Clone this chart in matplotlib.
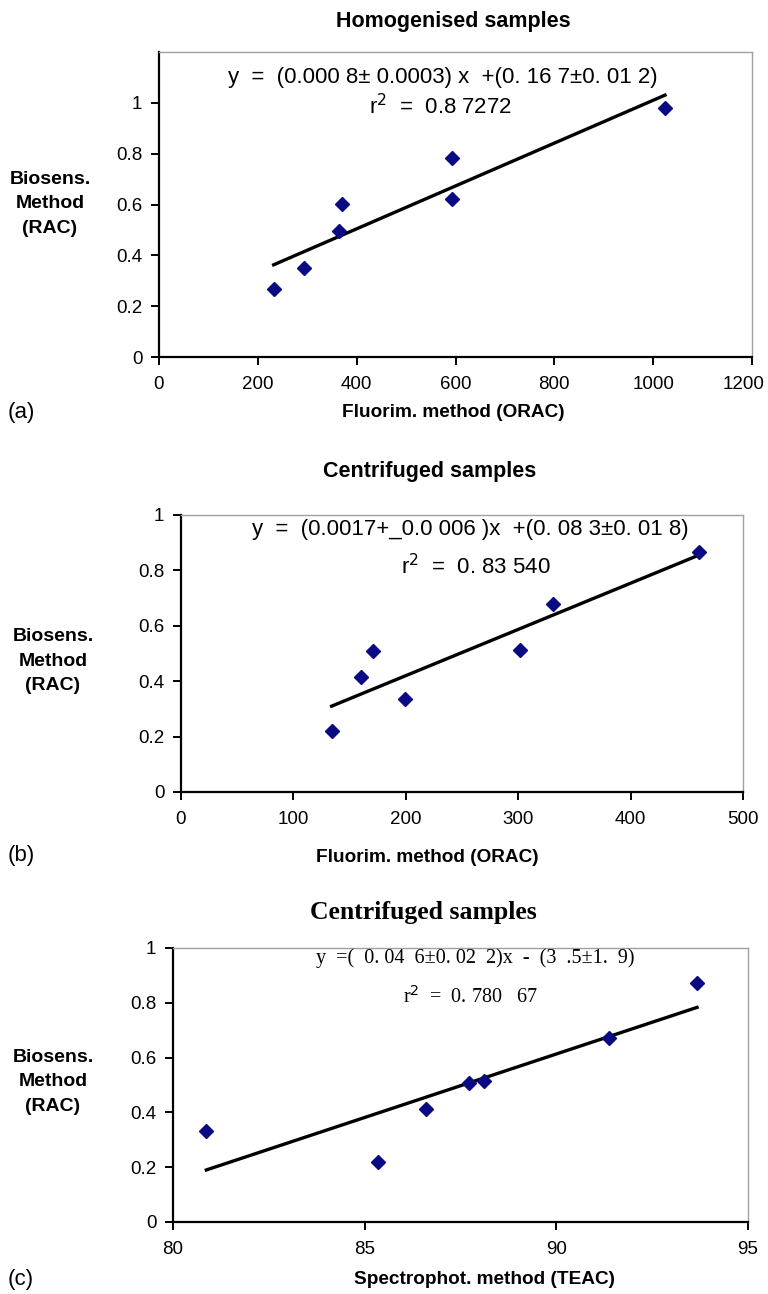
import matplotlib
matplotlib.use("Agg")
import matplotlib.pyplot as plt
import matplotlib.transforms as mtransforms
import numpy as np

# ---------------- data ----------------
a_x = [232, 294, 365, 370, 593, 593, 1024]
a_y = [0.266, 0.350, 0.495, 0.603, 0.781, 0.622, 0.979]

b_x = [134, 160, 171, 199, 302, 331, 461]
b_y = [0.219, 0.416, 0.508, 0.337, 0.513, 0.677, 0.868]

c_x = [80.87, 85.34, 86.60, 87.73, 88.12, 91.38, 93.67]
c_y = [0.333, 0.220, 0.414, 0.509, 0.516, 0.672, 0.873]

a_xticks = [0, 200, 400, 600, 800, 1000, 1200]
b_xticks = [0, 100, 200, 300, 400, 500]
c_xticks = [80, 85, 90, 95]
yticks = [0, 0.2, 0.4, 0.6, 0.8, 1]
ytick_labels = ["0", "0.2", "0.4", "0.6", "0.8", "1"]

titles = ["Homogenised samples", "Centrifuged samples", "Centrifuged samples"]
xlabels = ["Fluorim. method (ORAC)", "Fluorim. method (ORAC)", "Spectrophot. method (TEAC)"]
ylabel = "Biosens.\nMethod\n(RAC)"
panel_tags = ["(a)", "(b)", "(c)"]
eq1 = ["y  =  (0.000 8± 0.0003) x  +(0. 16 7±0. 01 2)",
       "y  =  (0.0017+_0.0 006 )x  +(0. 08 3±0. 01 8)",
       "y  =(  0. 04  6±0. 02  2)x  -  (3  .5±1.  9)"]
eq2 = ["r$^2$  =  0.8 7272", "r$^2$  =  0. 83 540", "r$^{2}$  =  0. 780   67"]

sans = "Liberation Sans"
serif = "Liberation Serif"

W, H = 768, 1294
fig = plt.figure(figsize=(W / 100, H / 100), dpi=100)

def fx(px):
    return px / W

def fy(py):
    return 1 - py / H

# axes boxes in pixels: left, top, right, bottom
boxes = [(159, 52, 752, 357), (181, 515, 743, 792), (173, 948, 748, 1222)]
ylims = [(0, 1.2), (0, 1), (0, 1)]
xlims = [(0, 1200), (0, 500), (80, 95)]
xts = [a_xticks, b_xticks, c_xticks]
datas = [(a_x, a_y), (b_x, b_y), (c_x, c_y)]

title_pos = [(453, 21), (430, 472), (423, 913)]
ylab_pos = [(50, 204), (53, 661), (53, 1082)]
xlab_pos = [(453, 413), (427, 857), (484, 1280)]
tag_pos = [(8, 413), (8, 855), (8, 1280)]
eq1_pos = [(443, 77), (470, 530), (475, 958)]
eq2_pos = [(440, 107), (476, 567), (470, 997)]

for i in range(3):
    l, t, r, b = boxes[i]
    ax = fig.add_axes([fx(l), fy(b), fx(r) - fx(l), (b - t) / H])
    x, y = datas[i]
    ax.plot(x, y, linestyle="none", marker="D", markersize=7.5,
            color="#0a0a82", zorder=3)
    k, c0 = np.polyfit(x, y, 1)
    xs = np.array([min(x), max(x)])
    ax.plot(xs, k * xs + c0, color="black", linewidth=2.4, zorder=2)
    ax.set_xlim(*xlims[i])
    ax.set_ylim(*ylims[i])
    ax.set_xticks(xts[i])
    ax.set_yticks(yticks)
    ax.set_yticklabels(ytick_labels)
    for s in ["top", "right"]:
        ax.spines[s].set_color("#a0a0a0")
        ax.spines[s].set_linewidth(1.0)
    for s in ["left", "bottom"]:
        ax.spines[s].set_color("black")
        ax.spines[s].set_linewidth(1.6)
    ax.tick_params(axis="both", direction="out", length=6, width=1.4,
                   labelsize=13.5)
    ax.tick_params(axis="x", pad=8)
    ax.tick_params(axis="y", pad=6)
    for lab in ax.get_xticklabels() + ax.get_yticklabels():
        lab.set_fontfamily(sans)
    if i == 0:
        last = ax.get_xticklabels()[-1]
        last.set_transform(last.get_transform() +
                           mtransforms.ScaledTranslation(-0.08, 0, fig.dpi_scale_trans))

    if i == 2:
        fig.text(fx(title_pos[i][0]), fy(title_pos[i][1]), titles[i],
                 ha="center", va="center", fontsize=18.5, fontweight="bold",
                 family=serif)
    else:
        fig.text(fx(title_pos[i][0]), fy(title_pos[i][1]), titles[i],
                 ha="center", va="center", fontsize=15.5, fontweight="bold",
                 family=sans)
    fig.text(fx(ylab_pos[i][0]), fy(ylab_pos[i][1]), ylabel,
             ha="center", va="center", fontsize=14, fontweight="bold",
             family=sans, linespacing=1.6)
    fig.text(fx(xlab_pos[i][0]), fy(xlab_pos[i][1]), xlabels[i],
             ha="center", va="center", fontsize=13.7, fontweight="bold",
             family=sans)
    fig.text(fx(tag_pos[i][0]), fy(tag_pos[i][1]), panel_tags[i],
             ha="left", va="center", fontsize=16, family=sans)
    efam = serif if i == 2 else sans
    esize = 14.5 if i == 2 else 16
    fig.text(fx(eq1_pos[i][0]), fy(eq1_pos[i][1]), eq1[i],
             ha="center", va="center", fontsize=esize, family=efam)
    fig.text(fx(eq2_pos[i][0]), fy(eq2_pos[i][1]), eq2[i],
             ha="center", va="center", fontsize=esize, family=efam)

fig.savefig("out.png", dpi=100, facecolor="white")
